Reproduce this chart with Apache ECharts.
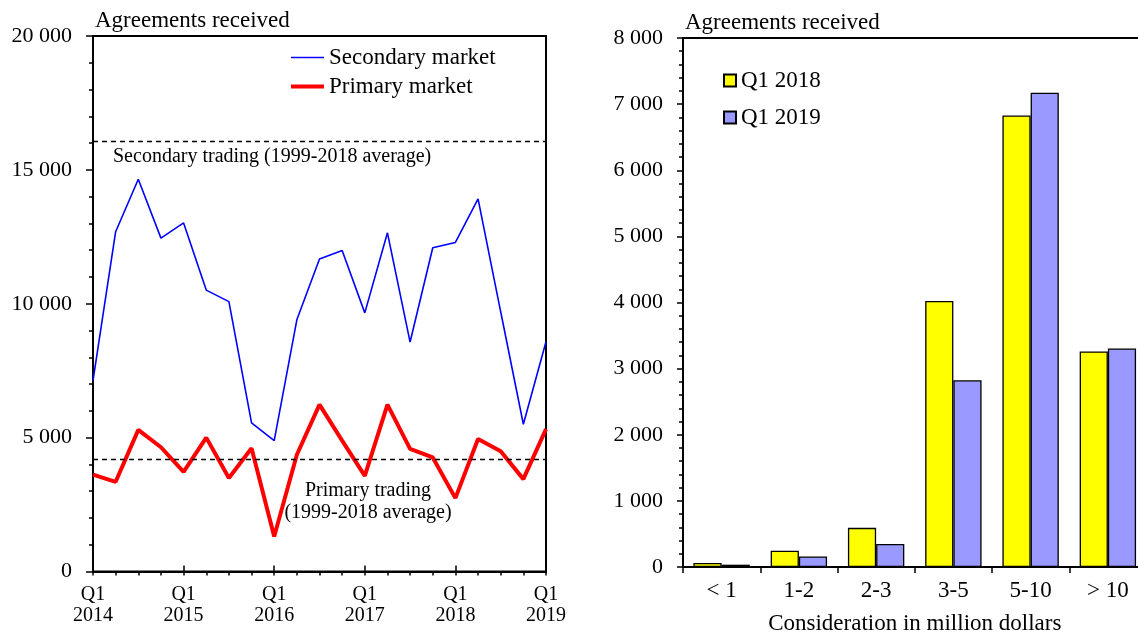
<!DOCTYPE html>
<html>
<head>
<meta charset="utf-8">
<script src="https://cdn.jsdelivr.net/npm/echarts@6/dist/echarts.min.js"></script>
<style>
html,body{margin:0;padding:0;background:#fff;}
#c{width:1138px;height:632px;}
</style>
</head>
<body>
<div id="c"></div>
<script>
// ---- Data ----
var quarters = ['Q1 2014','Q2 2014','Q3 2014','Q4 2014','Q1 2015','Q2 2015','Q3 2015','Q4 2015',
  'Q1 2016','Q2 2016','Q3 2016','Q4 2016','Q1 2017','Q2 2017','Q3 2017','Q4 2017',
  'Q1 2018','Q2 2018','Q3 2018','Q4 2018','Q1 2019'];
var secondaryMarket = [7130, 12690, 14650, 12450, 13020, 10510, 10080, 5550, 4890, 9400, 11670,
  11990, 9660, 12650, 8570, 12090, 12290, 13920, 9700, 5500, 8580];
var primaryMarket = [3620, 3350, 5290, 4640, 3720, 5000, 3490, 4600, 1310, 4360, 6230,
  4890, 3570, 6230, 4580, 4260, 2740, 4950, 4490, 3450, 5320];
var secondaryAverage = 16080;
var primaryAverage = 4200;

var sizeBands = ['< 1', '1-2', '2-3', '3-5', '5-10', '> 10'];
var q1_2018 = [60, 245, 592, 4022, 6828, 3260];
var q1_2019 = [35, 160, 348, 2824, 7172, 3305];

// ---- Chart ----
var FONT = 'Liberation Serif';
function fmt(v) {
  if (v >= 1000) {
    var r = String(v % 1000);
    while (r.length < 3) r = '0' + r;
    return Math.floor(v / 1000) + ' ' + r;
  }
  return String(v);
}
var chart = echarts.init(document.getElementById('c'), null, {renderer: 'canvas'});
var black = '#000';
var option = {
  backgroundColor: '#fff',
  animation: false,
  textStyle: {fontFamily: FONT, color: black},
  title: [
    {text: 'Agreements received', left: 95, top: 9, padding: 0,
     textStyle: {fontFamily: FONT, fontSize: 23, fontWeight: 'normal', color: black}},
    {text: 'Agreements received', left: 685, top: 11, padding: 0,
     textStyle: {fontFamily: FONT, fontSize: 23, fontWeight: 'normal', color: black}}
  ],
  legend: [
    {orient: 'vertical', left: 289, top: 46, padding: 0, itemWidth: 33, itemHeight: 14, itemGap: 6,
     itemStyle: {opacity: 0},
     data: [
       {name: 'Secondary market', lineStyle: {width: 1.6, color: '#0000ff'}},
       {name: 'Primary market', lineStyle: {width: 4, color: '#ff0000'}}
     ],
     textStyle: {fontFamily: FONT, fontSize: 23, color: black, lineHeight: 23}},
    {orient: 'vertical', left: 723, top: 69, padding: 0, itemWidth: 12, itemHeight: 12, itemGap: 14,
     data: ['Q1 2018', 'Q1 2019'], icon: 'rect',
     textStyle: {fontFamily: FONT, fontSize: 23, color: black, lineHeight: 23}}
  ],
  grid: [
    {left: 93, width: 453, top: 36, bottom: 60.5, show: true, borderColor: black, borderWidth: 2,
     containLabel: false, outerBoundsMode: 'none'},
    {left: 683, width: 463.5, top: 38, bottom: 65, show: true, borderColor: black, borderWidth: 2,
     containLabel: false, outerBoundsMode: 'none'}
  ],
  xAxis: [
    {type: 'category', gridIndex: 0, data: quarters, boundaryGap: false,
     axisLine: {lineStyle: {color: black, width: 2}},
     axisTick: {show: true, interval: 0, length: 4, lineStyle: {color: black, width: 1.5}},
     axisLabel: {interval: function (i) { return i % 4 === 0; },
       formatter: function (v) { return v.replace(' ', '\n'); },
       fontFamily: FONT, fontSize: 20, color: black, lineHeight: 21, margin: 13},
     splitLine: {show: false}},
    {type: 'category', gridIndex: 0, data: quarters, boundaryGap: false, position: 'bottom',
     axisLine: {show: false},
     axisTick: {show: true, inside: true, interval: function (i) { return i % 4 === 0; },
       length: 6, lineStyle: {color: black, width: 1.5}},
     axisLabel: {show: false}, splitLine: {show: false}},
    {type: 'category', gridIndex: 1, data: sizeBands,
     axisLine: {lineStyle: {color: black, width: 2}},
     axisTick: {show: true, length: 6, lineStyle: {color: black, width: 1.5}},
     axisLabel: {fontFamily: FONT, fontSize: 23, color: black, margin: 12},
     name: 'Consideration in million dollars', nameLocation: 'middle', nameGap: 45,
     nameTextStyle: {fontFamily: FONT, fontSize: 23, color: black},
     splitLine: {show: false}}
  ],
  yAxis: [
    {type: 'value', gridIndex: 0, min: 0, max: 20000, interval: 5000,
     axisLine: {show: true, lineStyle: {color: black, width: 2}},
     axisTick: {show: true, length: 7, lineStyle: {color: black, width: 1.5}},
     minorTick: {show: true, splitNumber: 5, length: 4, lineStyle: {color: black, width: 1.5}},
     axisLabel: {formatter: fmt, fontFamily: FONT, fontSize: 22, color: black, margin: 21},
     splitLine: {show: false}},
    {type: 'value', gridIndex: 1, min: 0, max: 8000, interval: 1000,
     axisLine: {show: true, lineStyle: {color: black, width: 2}},
     axisTick: {show: true, length: 6, lineStyle: {color: black, width: 1.5}},
     minorTick: {show: true, splitNumber: 5, length: 4, lineStyle: {color: black, width: 1.5}},
     axisLabel: {formatter: fmt, fontFamily: FONT, fontSize: 22, color: black, margin: 20},
     splitLine: {show: false}}
  ],
  series: [
    {name: 'Secondary market', type: 'line', xAxisIndex: 0, yAxisIndex: 0, data: secondaryMarket,
     symbol: 'none', lineStyle: {color: '#0000ff', width: 1.6}, itemStyle: {color: '#0000ff'},
     z: 3,
     markLine: {silent: true, symbol: 'none', label: {show: false},
       lineStyle: {color: black, type: [5, 4], width: 1.3},
       data: [{yAxis: secondaryAverage}, {yAxis: primaryAverage}]}},
    {name: 'Primary market', type: 'line', xAxisIndex: 0, yAxisIndex: 0, data: primaryMarket,
     symbol: 'none', lineStyle: {color: '#ff0000', width: 4}, itemStyle: {color: '#ff0000'}, z: 4},
    {name: 'Q1 2018', type: 'bar', xAxisIndex: 2, yAxisIndex: 1, data: q1_2018,
     barGap: '0%', barCategoryGap: '27%',
     itemStyle: {color: '#ffff00', borderColor: black, borderWidth: 1.3}},
    {name: 'Q1 2019', type: 'bar', xAxisIndex: 2, yAxisIndex: 1, data: q1_2019,
     barGap: '0%', barCategoryGap: '27%',
     itemStyle: {color: '#9999ff', borderColor: black, borderWidth: 1.3}}
  ],
  graphic: [
    {type: 'text', left: 113, top: 147, style: {text: 'Secondary trading (1999-2018 average)',
      font: '20px "Liberation Serif"', fill: black}},
    {type: 'text', x: 368, y: 481, style: {text: 'Primary trading',
      font: '20px "Liberation Serif"', fill: black, align: 'center'}},
    {type: 'text', x: 368, y: 503, style: {text: '(1999-2018 average)',
      font: '20px "Liberation Serif"', fill: black, align: 'center'}}
  ]
};
chart.setOption(option);
</script>
</body>
</html>
